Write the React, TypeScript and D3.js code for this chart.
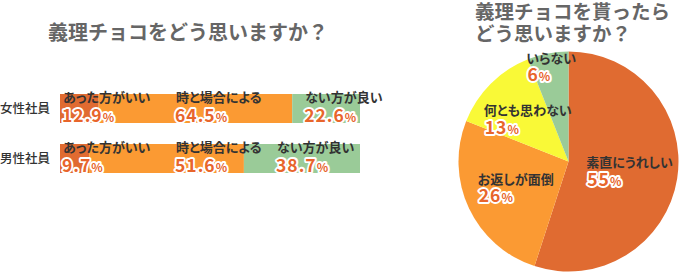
import React from 'react';
import * as d3 from 'd3';

const leftTitle = '義理チョコをどう思いますか？';
const rightTitle = ['義理チョコを貰ったら', 'どう思いますか？'];
const rowLabels = ['女性社員', '男性社員'];
const barCategories = ['あった方がいい', '時と場合による', 'ない方が良い'];
const femaleValues = [12.9, 64.5, 22.6];
const maleValues = [9.7, 51.6, 38.7];
const pieCategories = ['素直にうれしい', 'お返しが面倒', '何とも思わない', 'いらない'];
const pieValues = [55, 26, 13, 6];

const barColors = ['#E06B31', '#FB9A33', '#9ACB98'];
const pieColors = ['#E06B31', '#FB9A33', '#F9F937', '#9ACB98'];
const pctColor = '#E8652B';
const font = '"Noto Sans CJK JP", "Noto Sans", sans-serif';

function Pct({ x, y, value, digits, size }: { x: number; y: number; value: number; digits: number; size: number }) {
  return (
    <text
      x={x}
      y={y}
      fontFamily={font}
      fontWeight={700}
      fontSize={size}
      fill={pctColor}
      stroke="#fff"
      strokeWidth={3.8}
      strokeLinejoin="round"
      style={{ paintOrder: 'stroke' }}
      letterSpacing={1}
    >
      {value.toFixed(digits)}
      <tspan fontSize={size * 0.68}>%</tspan>
    </text>
  );
}

export default function App() {
  const W = 680;
  const H = 272;
  const rows = [femaleValues, maleValues];
  const x = d3.scaleLinear().domain([0, 100]).range([60, 360]);
  const y = d3.scaleBand<string>().domain(rowLabels).range([94, 173]).paddingInner(0.42).paddingOuter(0);
  const labelCols = [63, 176, 277];

  const cx = 568.5;
  const cy = 161.5;
  const r = 110;
  const pie = d3.pie<number>().sort(null).value((d) => d)(pieValues);
  const arc = d3.arc<d3.PieArcDatum<number>>().innerRadius(0).outerRadius(r);

  const kana = { fontFeatureSettings: '"palt"' } as React.CSSProperties;

  return (
    <svg width={W} height={H} style={{ position: 'absolute', left: 0, top: 0, background: '#fff' }}>
      <text x={48} y={40} fontFamily={font} fontWeight={700} fontSize={20} fill="#666">
        {leftTitle}
      </text>
      {rightTitle.map((t, i) => (
        <text key={i} x={475} y={19 + i * 22} fontFamily={font} fontWeight={700} fontSize={19.5} fill="#666">
          {t}
        </text>
      ))}

      {rows.map((vals, ri) => {
        const top = y(rowLabels[ri])!;
        const bw = y.bandwidth();
        const starts = d3.cumsum([0, ...vals]);
        return (
          <g key={ri}>
            <text x={0} y={top + bw / 2 + 4.5} fontFamily={font} fontWeight={500} fontSize={12.5} fill="#333">
              {rowLabels[ri]}
            </text>
            {vals.map((v, i) => (
              <rect key={i} x={x(starts[i])} y={top} width={x(starts[i] + v) - x(starts[i])} height={bw} fill={barColors[i]} />
            ))}
            {vals.map((v, i) => {
              const lx = Math.max(labelCols[i], x(starts[i]) + (i === 0 ? 3 : 13));
              return (
                <g key={'l' + i}>
                  <text x={lx} y={top + 7.5} fontFamily={font} fontWeight={700} fontSize={13} fill="#333" style={kana}>
                    {barCategories[i]}
                  </text>
                  <Pct x={lx - 1} y={top + 27.5} value={v} digits={1} size={17.5} />
                </g>
              );
            })}
          </g>
        );
      })}

      <g transform={`translate(${cx},${cy})`}>
        {pie.map((d, i) => (
          <path key={i} d={arc(d)!} fill={pieColors[i]} />
        ))}
        {pie.map((d, i) => {
          const lr = d.value < 10 ? r * 0.88 : r * 0.55;
          const [mx, my] = d3.arc<d3.PieArcDatum<number>>().innerRadius(lr).outerRadius(lr).centroid(d);
          const w = pieCategories[i].length * 12;
          const lx = mx - w / 2;
          return (
            <g key={'t' + i}>
              <text x={lx} y={my - 3.5} fontFamily={font} fontWeight={700} fontSize={13} fill="#333" style={kana}>
                {pieCategories[i]}
              </text>
              <Pct x={lx + 1} y={my + 15} value={d.value} digits={0} size={17.5} />
            </g>
          );
        })}
      </g>
    </svg>
  );
}
